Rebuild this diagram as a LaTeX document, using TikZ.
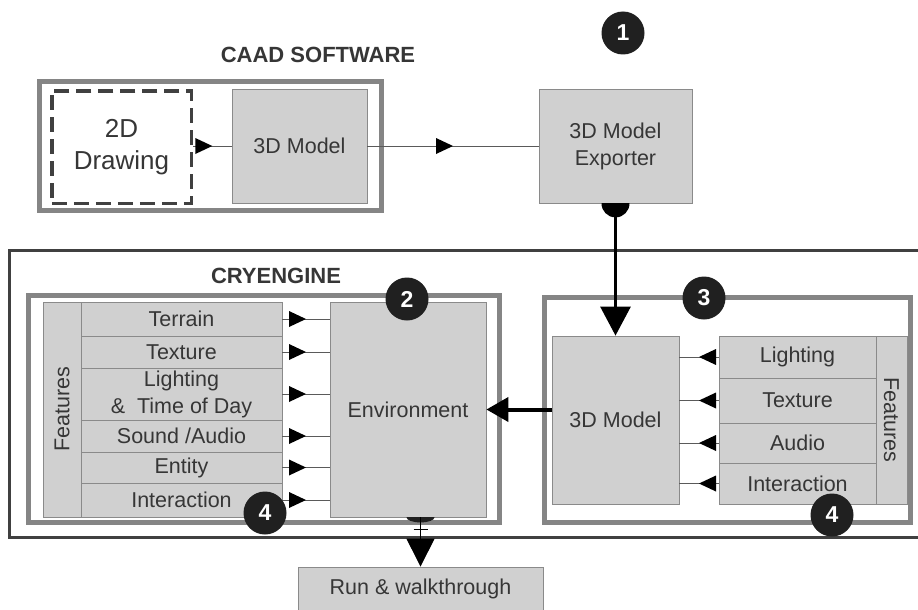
\documentclass[tikz,border=0pt]{standalone}
\usepackage{fontspec}
\setmainfont{Liberation Sans}
\usetikzlibrary{arrows.meta,decorations.markings,calc}
\definecolor{boxfill}{HTML}{D0D0D0}
\definecolor{boxline}{HTML}{8A8A8A}
\definecolor{grp}{HTML}{858585}
\definecolor{txt}{HTML}{363636}
\definecolor{outerc}{HTML}{404040}
\definecolor{conn}{HTML}{5A5A5A}
\definecolor{badgec}{HTML}{202020}
\begin{document}
\begin{tikzpicture}[x=1pt,y=-1pt,
  every node/.style={font=\fontsize{21.5}{27}\selectfont, text=txt},
  box/.style={draw=boxline, fill=boxfill, line width=0.8pt, inner sep=0pt, align=center},
  grpbox/.style={draw=grp, line width=5pt, inner sep=0pt},
  badge/.style={circle, fill=badgec, minimum size=43pt, inner sep=0pt, text=white, font=\bfseries\fontsize{23}{23}\selectfont},
  midarr/.style={draw=conn, line width=1pt, postaction={decorate},
    decoration={markings, mark=at position 0.5 with {\fill[black] (0,0) -- (-17,8) -- (-17,-8) -- cycle;}}},
  heading/.style={font=\bfseries\fontsize{22}{26}\selectfont, text=txt}
]
\useasboundingbox (0,0) rectangle (918,610);
\clip (0,0) rectangle (918,610);
\fill[white] (0,0) rectangle (918,610);

% ---------- CAAD software ----------
\node[heading] (caadlbl) at (318,55) {CAAD SOFTWARE};
\node[grpbox, minimum width=342pt, minimum height=129pt] (caad) at (210.5,146) {};
\node[draw=outerc, line width=3.5pt, dash pattern=on 15pt off 7pt, inner sep=0pt, align=center,
      font=\fontsize{26}{32}\selectfont,
      minimum width=139.5pt, minimum height=112.5pt] (drw) at (121.5,147) {2D\\Drawing};
\node[box, minimum width=135pt, minimum height=114pt] (m1) at (299.5,146) {3D Model};

% exporter with ball cap
\node[box, minimum width=153pt, minimum height=114pt] (exp) at (615.5,146) {3D Model\\Exporter};
\begin{scope}
  \clip (exp.south west) rectangle ($(exp.south east)+(0,30)$);
  \fill[black] (exp.south) circle[radius=14pt];
\end{scope}
\node[badge] (b1) at (623,33) {1};

\draw[midarr] (m1.west -| drw.east) -- (m1.west);
\draw[midarr] (m1.east) -- (exp.west);

% ---------- CRYENGINE ----------
\node[draw=outerc, line width=3pt, inner sep=0pt, minimum width=920.5pt, minimum height=287pt] (cry) at (469.75,394) {};
\node[heading] (crylbl) at (276,276) {CRYENGINE};

\node[grpbox, minimum width=471pt, minimum height=227pt] (envgrp) at (264,409) {};
\node[grpbox, minimum width=366pt, minimum height=225pt] (rgrp) at (727.5,410) {};

% left features
\node[box, rotate=90, minimum width=215pt, minimum height=38pt] (fl) at (62,409.5) {Features};
\node[box, minimum width=201pt, minimum height=34pt] (l1) at (181.5,319) {Terrain};
\node[box, minimum width=201pt, minimum height=32pt] (l2) at (181.5,352) {Texture};
\node[box, minimum width=201pt, minimum height=52pt] (l3) at (181.5,394) {Lighting\\\& \ Time of Day};
\node[box, minimum width=201pt, minimum height=32pt] (l4) at (181.5,436) {Sound /Audio};
\node[box, minimum width=201pt, minimum height=31pt] (l5) at (181.5,467.5) {Entity};
\node[box, minimum width=201pt, minimum height=34pt] (l6) at (181.5,500) {Interaction};

\node[box, minimum width=156pt, minimum height=215pt] (env) at (408,409.5) {Environment};

\foreach \r in {l1,l2,l3,l4,l5,l6}{
  \draw[midarr] (\r.east) -- (\r.east -| env.west);
}

% right features
\node[box, minimum width=127pt, minimum height=168pt] (m2) at (615.5,420) {3D Model};
\node[box, minimum width=157pt, minimum height=42pt] (r1) at (797.5,357) {Lighting};
\node[box, minimum width=157pt, minimum height=45pt] (r2) at (797.5,400.5) {Texture};
\node[box, minimum width=157pt, minimum height=40pt] (r3) at (797.5,443) {Audio};
\node[box, minimum width=157pt, minimum height=41pt] (r4) at (797.5,483.5) {Interaction};
\node[box, rotate=-90, minimum width=168pt, minimum height=31pt] (fr) at (891.5,420) {Features};

\foreach \r in {r1,r2,r3,r4}{
  \draw[midarr] (\r.west) -- (\r.west -| m2.east);
}

% main flow
\draw[black, line width=3pt, -{Triangle[length=29pt,width=30pt]}] (exp.south) -- (m2.north);
\draw[black, line width=4pt, -{Triangle[length=22pt,width=24pt]}] (m2.west |- env.east) -- (env.east);

% run & walkthrough
\node[box, minimum width=245pt, minimum height=44pt] (run) at (420.5,589) {Run \& walkthrough};
\coordinate (envout) at (run.north |- env.south);
\begin{scope}
  \clip ($(envout)+(-20,0)$) rectangle ($(envout)+(20,6)$);
  \fill[badgec] (envout) ellipse[x radius=14pt, y radius=5pt];
\end{scope}
\draw[black, line width=1pt, -{Triangle[length=28pt,width=28pt]}] (envout) -- (run.north);
\draw[black, line width=1.2pt] ($(envout)+(-7,12)$) -- ($(envout)+(7,12)$);

% badges
\node[badge] (b2) at (407,299) {2};
\node[badge] (b3) at (704,298) {3};
\node[badge] (b4l) at (265,513) {4};
\node[badge] (b4r) at (832,515) {4};
\end{tikzpicture}
\end{document}
